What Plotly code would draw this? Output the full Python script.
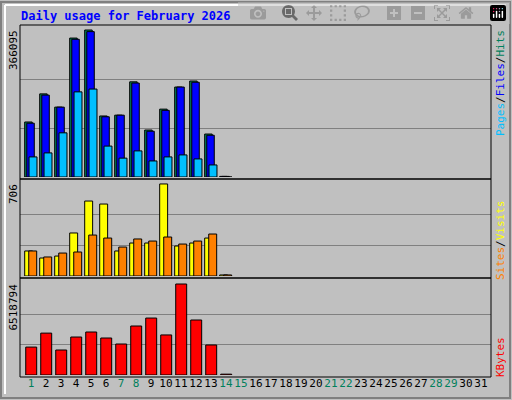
import plotly.graph_objects as go

days = list(range(1, 32))
data_days = list(range(1, 15))
hits = [137000, 207000, 174000, 346000, 366095, 152000, 154000, 237000, 117000, 169000, 224000, 239000, 107000, 1500]
files = [134000, 204000, 174000, 343000, 362000, 150000, 154000, 234000, 114000, 166000, 224000, 236000, 104000, 1500]
pages = [50000, 60000, 110000, 212000, 219000, 77000, 47000, 65000, 40000, 50000, 55000, 45000, 30000, 0]
visits = [192, 138, 153, 330, 575, 552, 192, 253, 253, 706, 230, 253, 291, 8]
sites = [192, 146, 176, 184, 314, 291, 222, 284, 268, 299, 245, 268, 322, 8]
kbytes = [2000000, 3000000, 1790000, 2720000, 3080000, 2650000, 2220000, 3510000, 4080000, 2870000, 6518794, 3940000, 2150000, 60000]
weekend = [1, 7, 8, 14, 15, 21, 22, 28, 29]

H = 400.0
def py(p):
    return 1 - p / H

FONT = "DejaVu Sans Mono"
fig = go.Figure()
ln = dict(color="black", width=1)
fig.add_bar(x=data_days, y=hits, yaxis="y", marker=dict(color="#00805C", line=ln), offset=-0.42, width=0.5)
fig.add_bar(x=data_days, y=files, yaxis="y", marker=dict(color="#0000FF", line=ln), offset=-0.28, width=0.5)
fig.add_bar(x=data_days, y=pages, yaxis="y", marker=dict(color="#00BFFF", line=ln), offset=-0.13, width=0.53)
fig.add_bar(x=data_days, y=visits, yaxis="y2", marker=dict(color="#FFFF00", line=ln), offset=-0.42, width=0.53)
fig.add_bar(x=data_days, y=sites, yaxis="y2", marker=dict(color="#FF8000", line=ln), offset=-0.15, width=0.53)
fig.add_bar(x=data_days, y=kbytes, yaxis="y3", marker=dict(color="#FF0000", line=ln), offset=-0.35, width=0.73)

ticktext = [f'<span style="color:{"#00805C" if d in weekend else "black"}">{d}</span>' for d in days]

def yax(dom, mx, fr):
    return dict(domain=dom, range=[0, mx * fr], tickvals=[mx / 3, 2 * mx / 3], showticklabels=False,
                showgrid=True, gridcolor="#808080", gridwidth=1, zeroline=False, ticks="", fixedrange=True)

fig.update_layout(
    width=512, height=400, margin=dict(l=0, r=0, t=0, b=0, autoexpand=False),
    paper_bgcolor="#C0C0C0", plot_bgcolor="#C0C0C0", showlegend=False, barmode="overlay",
    font=dict(family=FONT, size=11, color="black"),
    xaxis=dict(domain=[20 / 512, 491 / 512], range=[0.267, 31.67], tickvals=days, ticktext=ticktext,
               tickangle=0, automargin=False,
               showgrid=False, zeroline=False, ticks="", anchor="y3", tickfont=dict(size=11, family=FONT)),
    yaxis=yax([py(177), py(25)], max(hits), 1.034),
    yaxis2=yax([py(276), py(180)], max(visits), 1.043),
    yaxis3=yax([py(375), py(279)], max(kbytes), 1.055),
)
fig.update_layout(yaxis2_anchor="x", yaxis3_anchor="x")

shapes = []
for y0, y1 in [(25, 179), (179, 278), (278, 377)]:
    shapes.append(dict(type="rect", xref="paper", yref="paper", x0=20 / 512, x1=491 / 512, y0=py(y1), y1=py(y0),
                       line=dict(color="black", width=1)))
shapes.append(dict(type="rect", xref="paper", yref="paper", x0=1 / 512, x1=510 / 512, y0=py(398), y1=py(2),
                   line=dict(color="#808080", width=2)))
shapes.append(dict(type="line", xref="paper", yref="paper", x0=5 / 512, x1=506 / 512, y0=py(5), y1=py(5),
                   line=dict(color="white", width=2)))
shapes.append(dict(type="line", xref="paper", yref="paper", x0=5 / 512, x1=5 / 512, y0=py(394), y1=py(5),
                   line=dict(color="white", width=2)))
fig.update_layout(shapes=shapes)

ann = [
    dict(text="<b>Daily usage for February 2026</b>", x=19 / 512, y=py(16), xanchor="left", yanchor="middle",
         font=dict(color="#0000FF", size=12, family=FONT)),
    dict(text=f"{max(hits)}", x=13 / 512, y=py(28), textangle=-90, yanchor="top"),
    dict(text=f"{max(visits)}", x=13 / 512, y=py(182), textangle=-90, yanchor="top"),
    dict(text=f"{max(kbytes)}", x=13 / 512, y=py(282), textangle=-90, yanchor="top"),
    dict(text='<span style="color:#00BFFF">Pages</span>/<span style="color:#0000FF">Files</span>/<span style="color:#00805C">Hits</span>',
         x=500 / 512, y=py(28), textangle=-90, yanchor="top"),
    dict(text='<span style="color:#FF8000">Sites</span>/<span style="color:#FFFF00">Visits</span>',
         x=500 / 512, y=py(198), textangle=-90, yanchor="top"),
    dict(text='<span style="color:#FF0000">KBytes</span>', x=500 / 512, y=py(335), textangle=-90, yanchor="top"),
]
for a in ann:
    a.setdefault("xref", "paper"); a.setdefault("yref", "paper"); a.setdefault("showarrow", False)
    a.setdefault("xanchor", "center")
fig.update_layout(annotations=ann)
fig.write_html("out.html", post_script="document.body.style.margin='0';document.body.style.overflow='hidden';")
